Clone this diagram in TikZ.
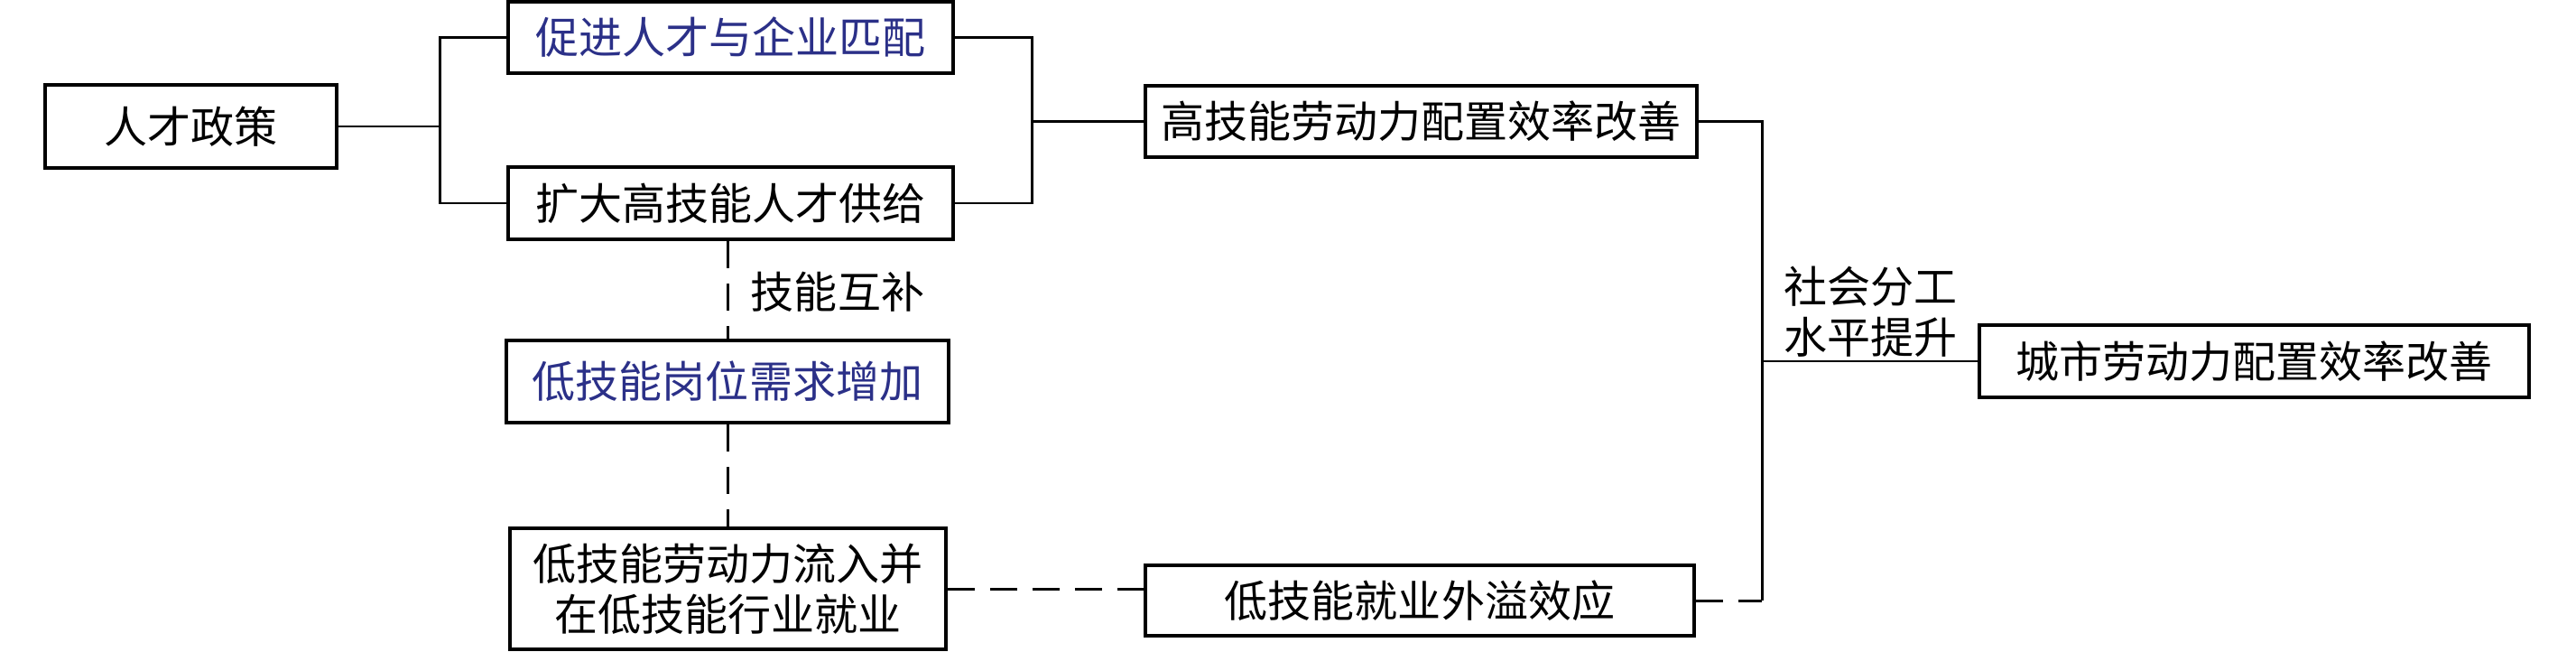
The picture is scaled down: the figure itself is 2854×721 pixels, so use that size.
\documentclass[tikz,border=0pt]{standalone}
\usepackage{fontspec}
\setmainfont{Noto Sans CJK SC}
\definecolor{textblue}{RGB}{43,48,136}
\tikzset{
  box/.style={draw=black, line width=1pt, inner sep=0pt, align=center,
    font=\fontsize{13.66pt}{15.9pt}\selectfont},
  conn/.style={line width=0.85pt},
  dconn/.style={line width=0.85pt, dash pattern=on 0.30cm off 0.17cm},
  lbl/.style={inner sep=0pt, align=left, font=\fontsize{13.66pt}{15.9pt}\selectfont}
}
\begin{document}
\begin{tikzpicture}[x=0.01cm, y=-0.01cm]
\useasboundingbox (0,0) rectangle (2854,721);
% nodes
\node[box, minimum width=3.23cm, minimum height=0.92cm] (n1) at (211.5,140) {人才政策};
\node[box, minimum width=4.93cm, minimum height=0.79cm, text=textblue] (n2) at (809.5,41.5) {促进人才与企业匹配};
\node[box, minimum width=4.93cm, minimum height=0.80cm] (n3) at (809.5,225) {扩大高技能人才供给};
\node[box, minimum width=6.11cm, minimum height=0.79cm] (n4) at (1574.5,134.5) {高技能劳动力配置效率改善};
\node[box, minimum width=6.09cm, minimum height=0.80cm] (n5) at (2497.5,400) {城市劳动力配置效率改善};
\node[box, minimum width=4.90cm, minimum height=0.91cm, text=textblue] (n6) at (806,422.5) {低技能岗位需求增加};
\node[box, minimum width=4.83cm, minimum height=1.34cm] (n7) at (806.5,652) {低技能劳动力流入并\\在低技能行业就业};
\node[box, minimum width=6.08cm, minimum height=0.78cm] (n8) at (1573,665) {低技能就业外溢效应};
% labels
\node[lbl, anchor=center] (l1) at (928,323) {技能互补};
\node[lbl, anchor=south west] (l2) at (1976,396) {社会分工\\水平提升};
% junctions
\coordinate (jL) at (487,140);
\coordinate (jR) at (1143,134.5);
\coordinate (jM) at (1952,400);
\coordinate (jB) at (1952,665);
% connectors
\draw[conn] (n1.east) -- (jL);
\draw[conn] (n2.west) -| (jL) |- (n3.west);
\draw[conn] (n2.east) -| (jR) |- (n3.east);
\draw[conn] (jR) -- (n4.west);
\draw[conn] (n4.east) -| (jB);
\draw[conn] (jM) -- (n5.west);
\draw[dconn] (n8.east) -- (jB);
\draw[dconn] (n3.south -| n6.north) -- (n6.north);
\draw[dconn] (n6.south) -- (n7.north -| n6.south);
\draw[dconn] (n7.east) -- (n7.east -| n8.west);
\end{tikzpicture}
\end{document}
